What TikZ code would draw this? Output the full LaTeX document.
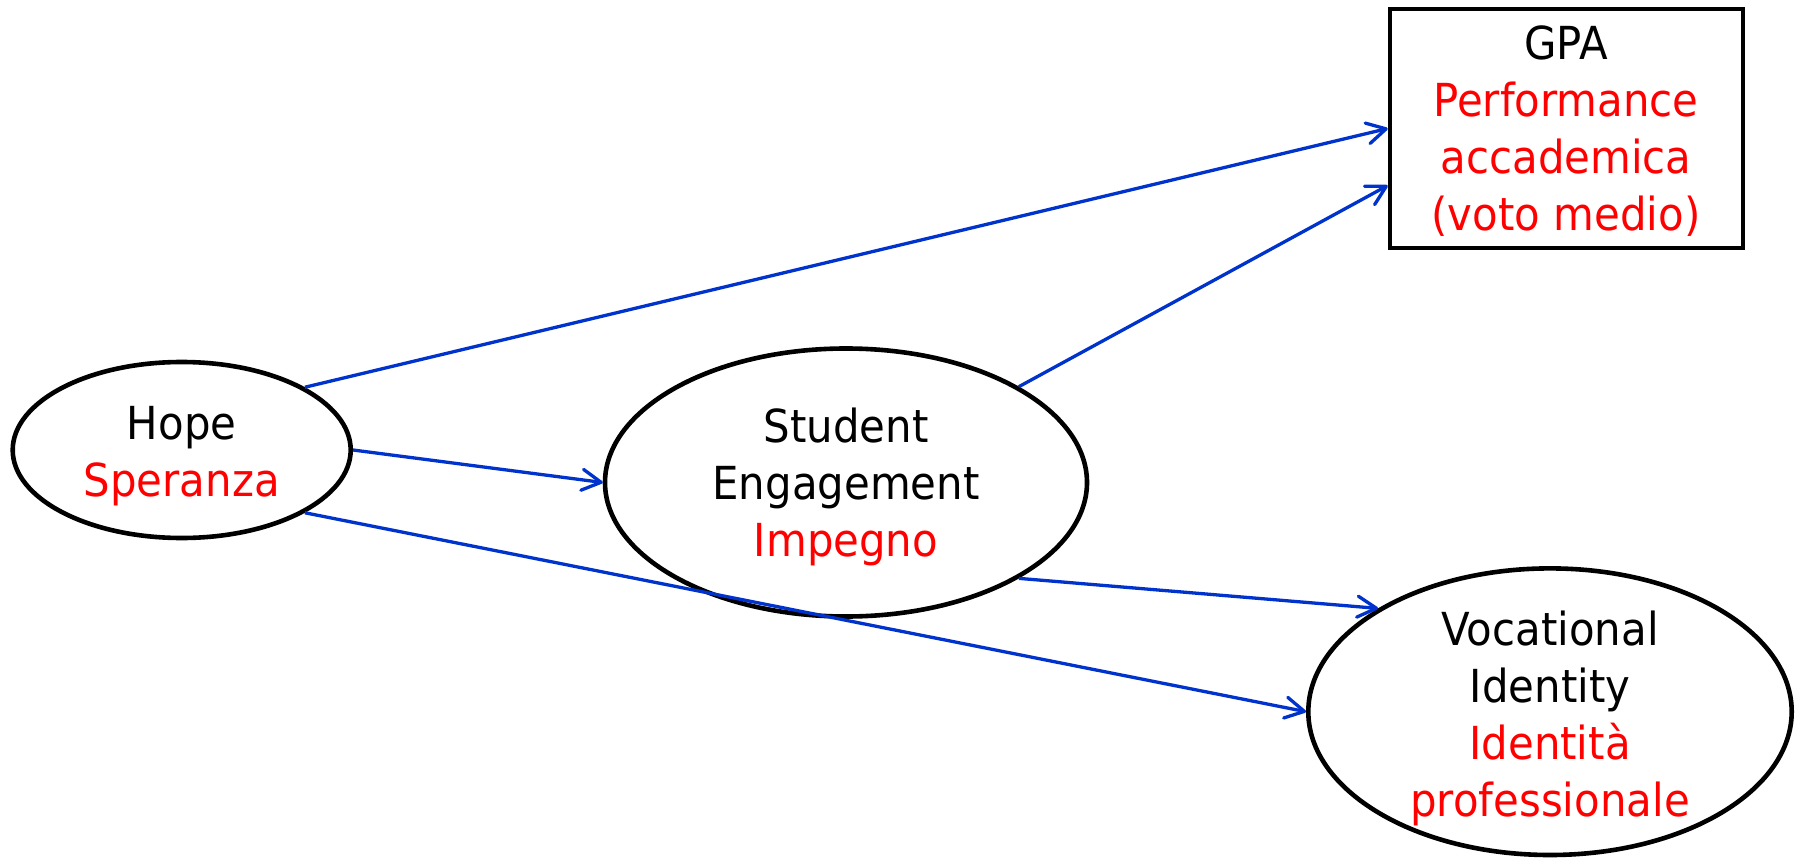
\documentclass[tikz,border=0pt]{standalone}
\usepackage{fontspec}
\setmainfont{DejaVu Sans}[FakeStretch=0.92]
\usetikzlibrary{shapes.geometric,arrows.meta}
\definecolor{linkblue}{RGB}{0,51,204}
\definecolor{txtred}{RGB}{255,0,0}
\begin{document}
\begin{tikzpicture}[x=1pt,y=1pt,
  ell/.style={draw=black, line width=4.6pt, ellipse, inner sep=0pt},
  boxnode/.style={draw=black, line width=4.6pt, rectangle, inner sep=0pt},
  lbl/.style={align=center, anchor=base, inner sep=0pt, font=\fontsize{45.5}{57}\selectfont},
  link/.style={draw=linkblue, line width=3.3pt, -{Straight Barb[length=19pt,width=21pt,round]}},
]
\useasboundingbox (0,0) rectangle (1798,-858);
% shapes
\node[ell, minimum width=338pt, minimum height=176pt] (hope) at (181.7,-450) {};
\node[ell, minimum width=482pt, minimum height=268pt] (se) at (846,-482.5) {};
\node[ell, minimum width=483.4pt, minimum height=286.6pt] (vi) at (1550,-711.7) {};
\node[boxnode, minimum width=353pt, minimum height=239pt] (gpa) at (1566.5,-128.5) {};
% labels (anchored at the baseline of the last line)
\node[lbl] (hopet) at (181.7,-496.7) {Hope\\\textcolor{txtred}{Speranza}};
\node[lbl] (set) at (846,-556.7) {Student\\Engagement\\\textcolor{txtred}{Impegno}};
\node[lbl] (vit) at (1550,-816.7) {Vocational\\Identity\\\textcolor{txtred}{Identità}\\\textcolor{txtred}{professionale}};
\node[lbl] (gpat) at (1566,-231) {GPA\\\textcolor{txtred}{Performance}\\\textcolor{txtred}{accademica}\\\textcolor{txtred}{(voto medio)}};
% connectors
\draw[link] (hope.27.5) -- (gpa.west);
\draw[link] (hope.east) -- (se.west);
\draw[link] (hope.-27.5) -- (vi.west);
\draw[link] (se.29.1) -- ([yshift=-57pt]gpa.west);
\draw[link] (se.-29.1) -- (vi.149.3);
\end{tikzpicture}
\end{document}
